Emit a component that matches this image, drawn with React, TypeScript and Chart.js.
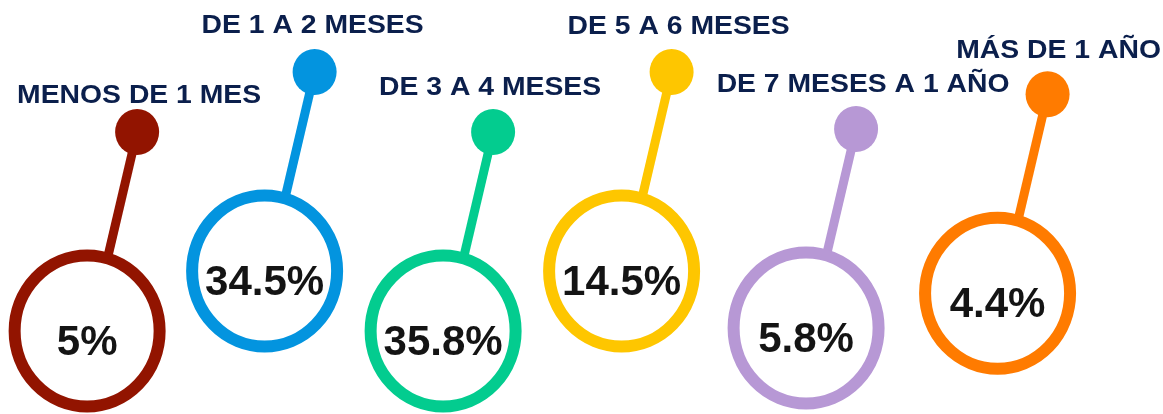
import React, { useEffect, useRef } from "react";
import { Chart, registerables } from "chart.js";

Chart.register(...registerables);

// ---- data ----
const categories = [
  "MENOS DE 1 MES",
  "DE 1 A 2 MESES",
  "DE 3 A 4 MESES",
  "DE 5 A 6 MESES",
  "DE 7 MESES A 1 AÑO",
  "MÁS DE 1 AÑO",
];
const values = [5, 34.5, 35.8, 14.5, 5.8, 4.4];
const valueLabels = values.map((v) => `${v}%`);
const colors = ["#921400", "#0394DF", "#03CC8F", "#FEC600", "#B798D5", "#FF7B00"];

// ---- layout (style only) ----
const rowLevel = [0, 1, 0, 1, 0.05, 0.63]; // vertical row of each bubble
const xNudge = [4, 0, -3, -6, -3, 7];
const labelDx = [2, -2, -3, 7, 7, 11];
const labelDy = [-29.5, -39, -37, -38, -37, -36];

const RING_RX = 72.5;
const RING_RY = 75.5;
const RING_W = 12;
const DOT_RX = 22;
const DOT_RY = 23;
const DOT_DX = 50;
const DOT_DY = -199;
const STICK_END_DX = 21;
const STICK_W = 9;
const LABEL_COLOR = "#0B1F4C";
const VALUE_COLOR = "#141414";
const FONT = "'Liberation Sans', Arial, Helvetica, sans-serif";

const infographicPlugin = {
  id: "infographic",
  afterDatasetsDraw(chart: any) {
    const ctx: CanvasRenderingContext2D = chart.ctx;
    const meta = chart.getDatasetMeta(0);
    meta.data.forEach((el: any, i: number) => {
      const cx = el.x + xNudge[i];
      const cy = el.y;
      const col = colors[i];
      const dx = cx + DOT_DX;
      const dy = cy + DOT_DY;
      ctx.save();
      // stick
      ctx.strokeStyle = col;
      ctx.lineWidth = STICK_W;
      ctx.lineCap = "butt";
      ctx.beginPath();
      ctx.moveTo(dx, dy);
      ctx.lineTo(cx + STICK_END_DX, cy - RING_RY);
      ctx.stroke();
      // ring
      ctx.lineWidth = RING_W;
      ctx.fillStyle = "#ffffff";
      ctx.beginPath();
      ctx.ellipse(cx, cy, RING_RX, RING_RY, 0, 0, Math.PI * 2);
      ctx.fill();
      ctx.stroke();
      // dot
      ctx.fillStyle = col;
      ctx.beginPath();
      ctx.ellipse(dx, dy, DOT_RX, DOT_RY, 0, 0, Math.PI * 2);
      ctx.fill();
      // value text
      ctx.fillStyle = VALUE_COLOR;
      ctx.font = `bold 42px ${FONT}`;
      ctx.textAlign = "center";
      ctx.textBaseline = "alphabetic";
      ctx.fillText(valueLabels[i], cx, cy + 24);
      // category label
      ctx.fillStyle = LABEL_COLOR;
      ctx.font = `bold 26px ${FONT}`;
      ctx.translate(dx + labelDx[i], dy + labelDy[i]);
      ctx.scale(1.09, 1);
      ctx.fillText(categories[i], 0, 0);
      ctx.restore();
    });
  },
};

export default function App() {
  const canvasRef = useRef<HTMLCanvasElement | null>(null);

  useEffect(() => {
    document.body.style.margin = "0";
    const canvas = canvasRef.current;
    if (!canvas) return;
    const chart = new Chart(canvas, {
      type: "scatter",
      data: {
        datasets: [
          {
            label: "Tiempo",
            data: values.map((_, i) => ({ x: i, y: rowLevel[i] })),
            pointRadius: 0,
            pointHoverRadius: 0,
          },
        ],
      },
      options: {
        animation: false,
        responsive: true,
        maintainAspectRatio: false,
        events: [],
        layout: { padding: 0 },
        plugins: {
          legend: { display: false },
          tooltip: { enabled: false },
          title: { display: false },
        },
        scales: {
          x: { type: "linear", display: false, min: -0.458, max: 5.95 },
          y: { type: "linear", display: false, min: -1.383, max: 5.517 },
        },
      },
      plugins: [infographicPlugin],
    });
    return () => chart.destroy();
  }, []);

  return (
    <div style={{ position: "relative", width: "1163px", height: "414px", background: "#ffffff" }}>
      <canvas ref={canvasRef} />
    </div>
  );
}
